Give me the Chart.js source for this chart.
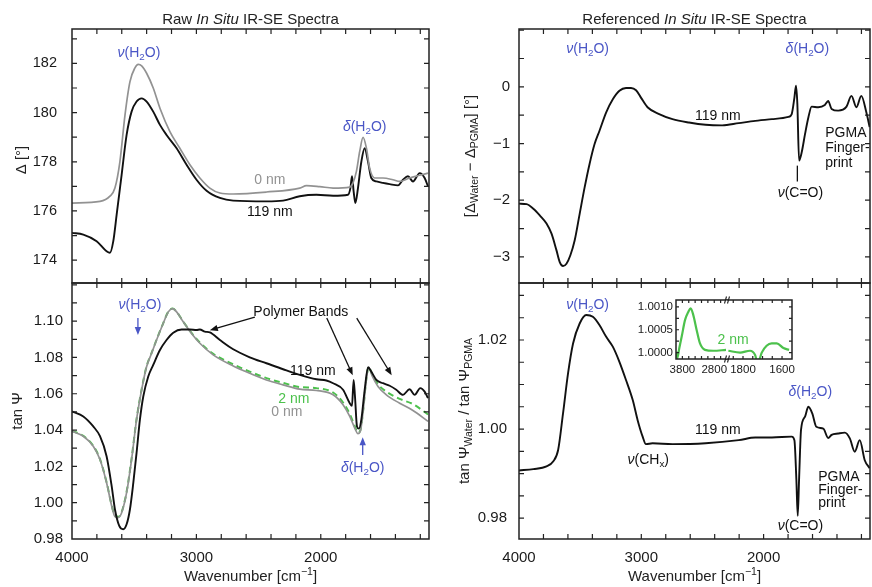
<!DOCTYPE html>
<html>
<head>
<meta charset="utf-8">
<script src="https://cdn.jsdelivr.net/npm/chart.js@4/dist/chart.umd.min.js"></script>
<style>
  body { margin: 0; background: #fff; }
  #wrap { position: relative; width: 872px; height: 587px; }
  #wrap canvas { position: absolute; left: 0; top: 0; }
</style>
</head>
<body>
<div id="wrap">
  <canvas id="rawDelta" width="872" height="587"></canvas>
  <canvas id="rawTan" width="872" height="587"></canvas>
  <canvas id="refDelta" width="872" height="587"></canvas>
  <canvas id="refTan" width="872" height="587"></canvas>
  <canvas id="insetA" width="872" height="587"></canvas>
  <canvas id="insetB" width="872" height="587"></canvas>
</div>
<script>
// ---- data (wavenumber in cm-1) ----
const rawDeltaWn0 = [4000,3775,3695,3655,3615,3574,3534,3494,3467,3440,3400,3347,3293,3213,3133,3052,2972,2892,2811,2704,2437,2169,2115,2008,1901,1767,1741,1714,1687,1660,1633,1607,1567,1500,1420,1366,1286,1205,1138];
const rawDelta0 = [176.32,176.39,176.6,176.93,178.0,179.9,181.26,181.82,181.96,181.9,181.6,181.0,180.18,179.23,178.55,177.88,177.34,176.93,176.73,176.69,176.77,176.93,177.03,176.99,176.93,176.97,177.14,177.6,178.42,178.99,178.55,177.74,177.34,177.34,177.27,177.2,177.34,177.45,177.54];

const rawDeltaWn119 = [4000,3909,3802,3722,3695,3668,3641,3601,3561,3521,3481,3440,3400,3347,3293,3240,3159,3079,2999,2918,2811,2704,2437,2303,2169,2035,1901,1781,1762,1749,1736,1722,1701,1674,1647,1620,1594,1553,1500,1446,1379,1339,1299,1259,1205,1165,1138];
const rawDelta119 = [175.11,175.04,174.77,174.36,174.3,174.77,175.85,177.47,179.09,180.04,180.45,180.58,180.45,180.04,179.5,179.09,178.55,177.88,177.27,176.82,176.53,176.42,176.39,176.42,176.6,176.66,176.62,176.66,176.93,177.41,176.8,176.32,176.93,178.0,178.55,178.0,177.34,177.2,177.14,177.09,177.04,177.27,177.41,177.2,177.54,177.34,176.99];

const tanWn119 = [4000,3909,3829,3775,3722,3681,3655,3620,3588,3561,3534,3507,3481,3454,3427,3387,3347,3293,3240,3186,3119,3052,2999,2972,2932,2892,2811,2704,2571,2437,2303,2169,2035,1955,1901,1821,1767,1749,1736,1725,1709,1693,1674,1647,1620,1594,1553,1500,1446,1393,1339,1286,1246,1200,1165,1138];
const tan119 = [1.0503,1.0475,1.042,1.0366,1.0256,1.0091,0.9964,0.9872,0.9854,0.9881,0.9964,1.011,1.0274,1.0457,1.0585,1.0695,1.0759,1.0841,1.0896,1.0936,1.0954,1.0954,1.0951,1.0954,1.0942,1.0938,1.0896,1.0845,1.0801,1.0768,1.0735,1.0704,1.068,1.0673,1.0658,1.0622,1.0548,1.0534,1.0676,1.0585,1.042,1.0408,1.0457,1.0622,1.0746,1.0722,1.0676,1.0658,1.0644,1.0622,1.0594,1.0625,1.0594,1.0631,1.0612,1.0576];

const tanWn0 = [4000,3909,3829,3775,3722,3681,3655,3628,3601,3561,3521,3481,3440,3400,3360,3320,3267,3226,3192,3159,3106,3039,2972,2865,2704,2571,2437,2303,2169,2035,1901,1821,1767,1727,1701,1682,1661,1634,1615,1585,1540,1473,1366,1259,1138];
const tan0 = [1.0393,1.0366,1.0311,1.0238,1.011,0.9982,0.9923,0.9918,0.9945,1.0055,1.0238,1.0457,1.0622,1.075,1.0823,1.0896,1.0987,1.1051,1.1069,1.1051,1.0996,1.0932,1.0878,1.0814,1.0753,1.0713,1.0676,1.0649,1.0625,1.0618,1.0594,1.0539,1.0475,1.0411,1.038,1.0393,1.0494,1.0676,1.0746,1.0695,1.064,1.0594,1.0548,1.0508,1.0448];
const tan2 = [1.0396,1.0368,1.0313,1.024,1.0113,0.9986,0.9928,0.9922,0.9948,1.006,1.0243,1.046,1.0625,1.0752,1.0825,1.0898,1.0988,1.1052,1.107,1.1052,1.0997,1.0935,1.0882,1.082,1.0762,1.0722,1.0686,1.066,1.0637,1.0631,1.0607,1.0552,1.0488,1.0422,1.0385,1.0398,1.0498,1.068,1.0748,1.0702,1.0652,1.0612,1.0572,1.0543,1.0486];

const refDeltaWn = [4000,3938,3883,3829,3775,3734,3694,3667,3640,3612,3580,3545,3504,3463,3423,3382,3341,3287,3233,3179,3125,3084,3043,3003,2949,2854,2745,2610,2474,2339,2203,2068,1932,1797,1770,1748,1735,1724,1710,1688,1661,1634,1607,1553,1499,1472,1444,1390,1322,1282,1241,1201,1160,1133];
const refDelta = [-2.06,-2.07,-2.15,-2.27,-2.41,-2.59,-2.88,-3.09,-3.16,-3.12,-2.97,-2.71,-2.24,-1.77,-1.36,-1.01,-0.77,-0.45,-0.22,-0.07,-0.02,-0.02,-0.06,-0.19,-0.36,-0.48,-0.57,-0.63,-0.67,-0.68,-0.64,-0.6,-0.57,-0.53,-0.48,-0.19,0.02,-0.3,-1.3,-1.15,-0.83,-0.54,-0.35,-0.36,-0.32,-0.25,-0.39,-0.42,-0.35,-0.16,-0.36,-0.16,-0.45,-0.71];

const refTanWn = [4000,3883,3775,3721,3680,3640,3599,3558,3504,3450,3396,3341,3287,3233,3179,3125,3070,3030,2989,2962,2908,2745,2474,2203,2068,1932,1770,1748,1732,1721,1710,1694,1661,1634,1602,1569,1512,1472,1444,1390,1336,1295,1255,1214,1173,1133];
const refTan = [0.9907,0.991,0.9916,0.9927,0.9953,1.0035,1.0125,1.0192,1.0237,1.0256,1.0252,1.0233,1.0207,1.0185,1.0151,1.011,1.0065,1.002,0.9983,0.9966,0.9968,0.9966,0.9968,0.9975,0.9981,0.9981,0.9983,0.9975,0.9886,0.9805,0.9886,0.9998,1.0028,1.005,1.0035,1.0005,1.0001,0.998,0.9987,0.999,0.9992,0.9979,0.9949,0.9975,0.993,0.9912];

const insetWnA = [3990,3959,3896,3821,3718,3614,3539,3457,3351,3247,3090,2830,2431];
const insetA = [1.00002,0.99988,1.0001,1.00035,1.00071,1.00089,1.00097,1.00082,1.00049,1.0002,1.00006,1.00004,1.00006];
const insetWnB = [1875,1815,1764,1738,1727,1716,1704,1679,1653,1627,1593,1564];
const insetB = [1.00004,1.0,1.00004,0.99995,0.9998,0.99985,1.0,1.00015,1.0002,1.0002,1.0001,1.00006];

// ---- ticks ----
const wnTicks = [4000,3800,3600,3400,3200,3000,2800,2600,2400,2200,2000,1800,1600,1400,1200];
const wnLabels = [4000,3000,2000];
const deltaTicks = [174,175,176,177,178,179,180,181,182,183];
const deltaLabels = [174,176,178,180,182];
const tanTicks = [0.98,0.99,1.00,1.01,1.02,1.03,1.04,1.05,1.06,1.07,1.08,1.09,1.10,1.11,1.12];
const tanLabels = [0.98,1.00,1.02,1.04,1.06,1.08,1.10];
const refDeltaTicks = [-3,-2.5,-2,-1.5,-1,-0.5,0,0.5,1];
const refDeltaLabels = [-3,-2,-1,0];
const refTanTicks = [0.98,0.985,0.99,0.995,1.0,1.005,1.01,1.015,1.02,1.025,1.03];
const refTanLabels = [0.98,1.00,1.02];
const insetTicksY = [1.0,1.00025,1.0005,1.00075,1.001];
const insetLabelsY = [1.0,1.0005,1.001];
const insetTicksA = [3800,3600,3400,3200,3000,2800,2600];
const insetLabelsA = [3800,2800];
const insetTicksB = [1850,1800,1750,1700,1650,1600,1550];
const insetLabelsB = [1800,1600];

const FAM = '"Liberation Sans", Arial, Helvetica, sans-serif';
const BLUE = '#4a56c6', GRAY = '#929292', GREEN = '#4cc14c', INK = '#111';
Chart.defaults.font.family = FAM;

const has = (arr, v) => arr.some(a => Math.abs(a - v) < 1e-9);
const pts = (xs, ys) => xs.map((x, i) => ({x: x, y: ys[i]}));

// rich text: *italic*, _{sub}, ^{sup}
function parseRich(s) {
  const out = []; let it = false, buf = '', i = 0;
  const flush = () => { if (buf) out.push({t: buf, it: it, m: 0}); buf = ''; };
  while (i < s.length) {
    const c = s[i];
    if (c === '*') { flush(); it = !it; i++; }
    else if ((c === '_' || c === '^') && s[i + 1] === '{') {
      flush();
      const j = s.indexOf('}', i);
      out.push({t: s.slice(i + 2, j), it: it, m: c === '_' ? 1 : 2});
      i = j + 1;
    } else { buf += c; i++; }
  }
  flush();
  return out;
}
function drawRich(ctx, s, x, y, size, color, align) {
  const segs = parseRich(s);
  const font = g => (g.it ? 'italic ' : '') + (g.m ? size * 0.7 : size) + 'px ' + FAM;
  let w = 0;
  segs.forEach(g => { ctx.font = font(g); g.w = ctx.measureText(g.t).width; w += g.w; });
  let cx = align === 'left' ? x : x - w / 2;
  ctx.fillStyle = color; ctx.textBaseline = 'middle'; ctx.textAlign = 'left';
  segs.forEach(g => {
    ctx.font = font(g);
    const dy = g.m === 1 ? size * 0.3 : g.m === 2 ? -size * 0.33 : 0;
    ctx.fillText(g.t, cx, y + dy);
    cx += g.w;
  });
}

function framePlugin(cfg, sx, sy) {
  return {
    id: 'frame',
    beforeDatasetsDraw(chart) {
      if (!cfg.bg) return;
      const a = chart.chartArea, ctx = chart.ctx;
      ctx.save(); ctx.fillStyle = '#fff';
      ctx.fillRect(a.left - (cfg.sides.includes('l') ? 0 : 1), a.top, a.right - a.left + 1, a.bottom - a.top);
      ctx.restore();
    },
    afterDatasetsDraw(chart) {
      const {ctx, chartArea: a} = chart;
      const X = chart.scales.x, Y = chart.scales.y;
      const sd = cfg.sides, L = cfg.len || 5;
      ctx.save();
      ctx.strokeStyle = '#222'; ctx.lineWidth = 1.5;
      ctx.beginPath();
      if (sd.includes('l')) { ctx.moveTo(a.left, a.top); ctx.lineTo(a.left, a.bottom); }
      if (sd.includes('r')) { ctx.moveTo(a.right, a.top); ctx.lineTo(a.right, a.bottom); }
      if (sd.includes('t')) { ctx.moveTo(a.left - 0.75, a.top); ctx.lineTo(a.right + 0.75, a.top); }
      if (sd.includes('b')) { ctx.moveTo(a.left - 0.75, a.bottom); ctx.lineTo(a.right + 0.75, a.bottom); }
      ctx.stroke();
      ctx.lineWidth = 1.2;
      ctx.beginPath();
      sx.ticks.forEach(v => {
        const p = X.getPixelForValue(v);
        if (p < a.left + 1 || p > a.right - 1) return;
        if (sd.includes('b')) { ctx.moveTo(p, a.bottom); ctx.lineTo(p, a.bottom - L); }
        if (sd.includes('t')) { ctx.moveTo(p, a.top); ctx.lineTo(p, a.top + L); }
      });
      sy.ticks.forEach(v => {
        const p = Y.getPixelForValue(v);
        if (p < a.top + 1 || p > a.bottom - 1) return;
        if (sd.includes('l')) { ctx.moveTo(a.left, p); ctx.lineTo(a.left + L, p); }
        if (sd.includes('r')) { ctx.moveTo(a.right, p); ctx.lineTo(a.right - L, p); }
      });
      ctx.stroke();
      if (cfg.breakMark) {
        // axis break marks on the inset
        ctx.lineWidth = 1.1;
        [a.top, a.bottom].forEach(yy => {
          ctx.beginPath();
          ctx.moveTo(a.left - 2.5, yy + 3.5); ctx.lineTo(a.left - 0.5, yy - 3.5);
          ctx.moveTo(a.left + 0.5, yy + 3.5); ctx.lineTo(a.left + 2.5, yy - 3.5);
          ctx.stroke();
        });
      }
      ctx.restore();
    }
  };
}

function arrow(ctx, x1, y1, x2, y2, color, head) {
  ctx.strokeStyle = color; ctx.fillStyle = color; ctx.lineWidth = 1.3;
  const ang = Math.atan2(y2 - y1, x2 - x1), hl = 8, hw = 3.2;
  const ex = head ? x2 - Math.cos(ang) * hl * 0.8 : x2, ey = head ? y2 - Math.sin(ang) * hl * 0.8 : y2;
  ctx.beginPath(); ctx.moveTo(x1, y1); ctx.lineTo(ex, ey); ctx.stroke();
  if (!head) return;
  ctx.beginPath();
  ctx.moveTo(x2, y2);
  ctx.lineTo(x2 - Math.cos(ang) * hl - Math.sin(ang) * hw, y2 - Math.sin(ang) * hl + Math.cos(ang) * hw);
  ctx.lineTo(x2 - Math.cos(ang) * hl + Math.sin(ang) * hw, y2 - Math.sin(ang) * hl - Math.cos(ang) * hw);
  ctx.closePath(); ctx.fill();
}

function notesPlugin(n) {
  return {
    id: 'notes',
    afterDraw(chart) {
      const {ctx, chartArea: a} = chart;
      const X = chart.scales.x, Y = chart.scales.y;
      ctx.save();
      (n.labels || []).forEach(l => drawRich(ctx, l.s, X.getPixelForValue(l.x), Y.getPixelForValue(l.y), l.size || 14, l.c || INK, l.a));
      (n.arrows || []).forEach(r => arrow(ctx, X.getPixelForValue(r[0]), Y.getPixelForValue(r[1]), X.getPixelForValue(r[2]), Y.getPixelForValue(r[3]), r[4] || INK, r[5] !== false));
      if (n.title) drawRich(ctx, n.title, (a.left + a.right) / 2, a.top - 9, 15, '#222');
      if (n.xTitle) drawRich(ctx, n.xTitle, (a.left + a.right) / 2, a.bottom + 38, 15, '#222');
      if (n.yTitle) {
        ctx.translate(a.left - n.yOff, (a.top + a.bottom) / 2 + (n.yShift || 0));
        ctx.rotate(-Math.PI / 2);
        drawRich(ctx, n.yTitle, 0, 0, 15, '#222');
      }
      ctx.restore();
    }
  };
}

function scaleCfg(s, axis, box) {
  return {
    type: 'linear', reverse: !!s.reverse, min: s.min, max: s.max,
    afterBuildTicks: sc => { sc.ticks = s.ticks.map(v => ({value: v})); },
    afterFit: sc => { if (axis === 'x') sc.height = box.xh; else sc.width = box.yw; },
    grid: {display: false, drawTicks: false},
    border: {display: false},
    ticks: {
      display: s.show !== false, autoSkip: false, maxRotation: 0, minRotation: 0,
      padding: s.pad, color: '#1a1a1a', font: {size: s.size || 15},
      callback: v => has(s.labels, v) ? s.fmt(v) : ''
    }
  };
}

function panel(id, box, sx, sy, datasets, frameCfg, notes) {
  return new Chart(document.getElementById(id), {
    type: 'line',
    data: {datasets: datasets},
    options: {
      responsive: false, animation: false, devicePixelRatio: 1,
      layout: {padding: {left: box.l - box.yw, right: 872 - box.r, top: box.t, bottom: 587 - box.b - box.xh}},
      plugins: {legend: {display: false}, tooltip: {enabled: false}},
      elements: {point: {radius: 0}, line: {cubicInterpolationMode: 'monotone', borderJoinStyle: 'round'}},
      scales: {x: scaleCfg(sx, 'x', box), y: scaleCfg(sy, 'y', box)}
    },
    plugins: [framePlugin(frameCfg, sx, sy), notesPlugin(notes)]
  });
}

const line = (xs, ys, color, w, dash) => ({data: pts(xs, ys), borderColor: color, borderWidth: w, borderDash: dash || [], fill: false});
const fmtWn = v => String(v);
const xTop = {min: 1130, max: 4000, reverse: true, ticks: wnTicks, labels: wnLabels, fmt: fmtWn, show: false, pad: 10};
const xBottom = Object.assign({}, xTop, {show: true});
const H2O_NU = '*ν*(H_{2}O)', H2O_DELTA = '*δ*(H_{2}O)';

// upper left: raw Delta
panel('rawDelta', {l: 72, r: 429, t: 29, b: 283, yw: 60, xh: 0}, xTop,
  {min: 173.07, max: 183.4, ticks: deltaTicks, labels: deltaLabels, fmt: v => String(v), pad: 15, size: 14.5},
  [line(rawDeltaWn0, rawDelta0, GRAY, 1.7), line(rawDeltaWn119, rawDelta119, INK, 1.9)],
  {sides: 'lrtb'},
  {title: 'Raw *In Situ* IR-SE Spectra', yTitle: 'Δ [°]', yOff: 50, yShift: 4,
   labels: [
     {x: 3462, y: 182.4, s: H2O_NU, c: BLUE},
     {x: 1647, y: 179.4, s: H2O_DELTA, c: BLUE},
     {x: 2410, y: 177.24, s: '0 nm', c: GRAY},
     {x: 2410, y: 175.94, s: '119 nm'}
   ]});

// lower left: raw tan Psi
panel('rawTan', {l: 72, r: 429, t: 283, b: 539, yw: 60, xh: 48}, xBottom,
  {min: 0.98, max: 1.121, ticks: tanTicks, labels: tanLabels, fmt: v => v.toFixed(2), pad: 9},
  [line(tanWn119, tan119, INK, 1.9), line(tanWn0, tan0, GRAY, 1.7), line(tanWn0, tan2, GREEN, 2, [6, 4])],
  {sides: 'lrtb'},
  {xTitle: 'Wavenumber [cm^{−1}]', yTitle: 'tan Ψ', yOff: 54,
   labels: [
     {x: 3454, y: 1.1088, s: H2O_NU, c: BLUE},
     {x: 2161, y: 1.105, s: 'Polymer Bands'},
     {x: 2064, y: 1.0724, s: '119 nm'},
     {x: 2217, y: 1.057, s: '2 nm', c: GREEN},
     {x: 2273, y: 1.0499, s: '0 nm', c: GRAY},
     {x: 1663, y: 1.019, s: H2O_DELTA, c: BLUE}
   ],
   arrows: [
     [3470, 1.1017, 3470, 1.0923, BLUE],
     [2530, 1.1022, 2892, 1.095],
     [1952, 1.1017, 1743, 1.0702],
     [1711, 1.1017, 1430, 1.0702],
     [1663, 1.0262, 1663, 1.0361, BLUE]
   ]});

// upper right: referenced Delta
panel('refDelta', {l: 519, r: 870, t: 29, b: 283, yw: 60, xh: 0}, xTop,
  {min: -3.46, max: 1.02, ticks: refDeltaTicks, labels: refDeltaLabels, fmt: v => String(v).replace('-', '−'), pad: 9},
  [line(refDeltaWn, refDelta, INK, 1.9)],
  {sides: 'lrtb'},
  {title: 'Referenced *In Situ* IR-SE Spectra', yTitle: '[Δ_{Water} − Δ_{PGMA}] [°]', yOff: 48,
   labels: [
     {x: 3439, y: 0.668, s: H2O_NU, c: BLUE},
     {x: 1642, y: 0.668, s: H2O_DELTA, c: BLUE},
     {x: 2374, y: -0.51, s: '119 nm'},
     {x: 1496, y: -0.81, s: 'PGMA', a: 'left'},
     {x: 1496, y: -1.08, s: 'Finger-', a: 'left'},
     {x: 1496, y: -1.35, s: 'print', a: 'left'},
     {x: 1699, y: -1.88, s: '*ν*(C=O)'}
   ],
   arrows: [[1724, -1.39, 1724, -1.67, INK, false]]});

// lower right: referenced tan Psi
panel('refTan', {l: 519, r: 870, t: 283, b: 539, yw: 60, xh: 48}, xBottom,
  {min: 0.9753, max: 1.0328, ticks: refTanTicks, labels: refTanLabels, fmt: v => v.toFixed(2), pad: 12},
  [line(refTanWn, refTan, INK, 1.9)],
  {sides: 'lrtb'},
  {xTitle: 'Wavenumber [cm^{−1}]', yTitle: 'tan Ψ_{Water} / tan Ψ_{PGMA}', yOff: 54,
   labels: [
     {x: 3439, y: 1.0279, s: H2O_NU, c: BLUE},
     {x: 2374, y: 0.9998, s: '119 nm'},
     {x: 2943, y: 0.9930, s: '*ν*(CH_{x})'},
     {x: 1618, y: 1.0083, s: H2O_DELTA, c: BLUE},
     {x: 1553, y: 0.98921, s: 'PGMA', a: 'left'},
     {x: 1553, y: 0.98629, s: 'Finger-', a: 'left'},
     {x: 1553, y: 0.98337, s: 'print', a: 'left'},
     {x: 1699, y: 0.9782, s: '*ν*(C=O)'}
   ]});

// inset, two segments of a broken wavenumber axis
const insetY = {min: 0.99986, max: 1.00115, ticks: insetTicksY, labels: insetLabelsY, fmt: v => v.toFixed(4), pad: 3, size: 11.5};
panel('insetA', {l: 676, r: 727, t: 300, b: 359, yw: 44, xh: 18},
  {min: 2400, max: 4000, reverse: true, ticks: insetTicksA, labels: insetLabelsA, fmt: fmtWn, pad: 4, size: 11.5},
  insetY,
  [line(insetWnA, insetA, GREEN, 2.2)],
  {sides: 'ltb', len: 3, bg: true},
  {});
panel('insetB', {l: 727, r: 792, t: 300, b: 359, yw: 0, xh: 18},
  {min: 1549, max: 1882, reverse: true, ticks: insetTicksB, labels: insetLabelsB, fmt: fmtWn, pad: 4, size: 11.5},
  Object.assign({}, insetY, {show: false}),
  [line(insetWnB, insetB, GREEN, 2.2)],
  {sides: 'rtb', len: 3, bg: true, breakMark: true},
  {labels: [{x: 1851, y: 1.000276, s: '2 nm', c: GREEN}]});
</script>
</body>
</html>
